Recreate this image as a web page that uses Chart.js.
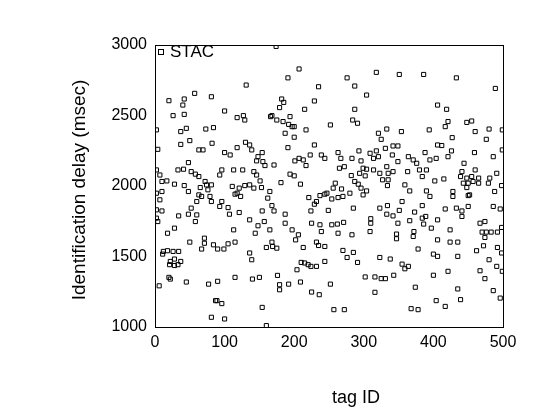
<!DOCTYPE html>
<html>
<head>
<meta charset="utf-8">
<script src="https://cdn.jsdelivr.net/npm/chart.js@4"></script>
<style>
  html, body { margin: 0; padding: 0; background: #fff; }
  #wrap { width: 560px; height: 420px; }
</style>
</head>
<body>
<div id="wrap"><canvas id="delayChart" width="560" height="420"></canvas></div>
<script>
// [tag ID, identification delay in msec]
const tags0to90 = [
  [20,2605],[42,2617],[57,2657],[81,2633],[40,2574],[26,2499],[42,2508],[2,2398],[37,2386],[45,2409],
  [73,2404],[84,2414],[4,2260],[37,2295],[50,2322],[63,2256],[69,2256],[82,2303],[48,2166],[33,2114],
  [41,2119],[52,2102],[58,2084],[63,2067],[2,2114],[7,2078],[10,2032],[17,2036],[28,2013],[42,2003],
  [72,2032],[74,2008],
  [48,1961],[65,1989],[76,1973],[2,1949],[10,1961],[7,1902],[63,1937],[67,1926],[79,1926],[60,1890],
  [81,1890],[52,1843],[2,1831],[10,1823],[48,1800],[34,1788],[60,1795],[2,1772],[58,1748],[4,1748],
  [28,1701],[18,1665],[50,1602],[71,1630],[71,1594],[67,1553],[84,1583],[12,1536],[18,1541],[26,1536],
  [34,1536],[11,1517],[28,1482],[22,1465],[37,1465],[21,1442],[28,1436],[33,1442],[20,1352],[22,1340],
  [45,1319],[6,1292],[77,1304],[87,1187],[81,1069],
];
const tags80to170 = [
  [131,2716],[100,2532],[118,2485],[127,2499],[129,2468],[166,2492],[100,2237],[108,2220],[118,2272],[130,2310],
  [136,2291],[139,2256],[154,2237],[148,2208],[155,2173],[146,2178],[158,2145],[96,2114],[93,2078],[113,2114],
  [126,2114],[142,2102],[146,2078],[151,2036],[111,1997],[129,2003],[136,2008],[81,2008],
  [121,1985],[142,1985],[153,1989],[118,1949],[123,1926],[115,1942],[165,1961],[96,1890],[105,1847],[93,1855],
  [107,1800],[121,1812],[154,1823],[136,1760],[157,1748],[148,1718],[144,1665],[165,1689],[113,1689],[115,1602],
  [105,1590],[99,1553],[90,1553],[136,1525],[160,1564],[139,1477],[90,1324],[115,1352],[140,1340],[150,1352],
  [89,1187],[96,1166],[154,1139],[100,1057],[160,1010],
];
const tags160to245 = [
  [174,2990],[207,2830],[191,2767],[235,2704],[182,2617],[185,2593],[179,2556],[229,2603],[215,2544],[168,2499],
  [175,2468],[194,2492],[184,2457],[192,2437],[200,2421],[197,2421],[217,2398],[187,2374],[200,2346],[229,2291],
  [191,2272],[239,2220],[171,2149],[201,2178],[207,2196],[213,2185],[223,2220],[217,2145],[244,2196],[194,2084],
  [200,2072],[181,2024],[209,2013],
  [162,1914],[168,1861],[171,1823],[221,1918],[229,1871],[232,1890],[237,1932],[224,1823],[244,1942],[187,1800],
  [187,1736],[197,1689],[206,1654],[202,1618],[213,1564],[225,1736],[237,1725],[239,1677],[232,1602],[235,1578],
  [244,1571],[168,1602],[169,1571],[175,1559],[210,1458],[215,1454],[220,1442],[224,1430],[232,1430],[204,1406],
  [244,1465],[176,1366],[179,1300],[179,1264],[192,1304],[209,1319],[225,1248],[236,1229],
];
const tags245to325 = [
  [276,2767],[318,2806],[287,2709],[304,2645],[287,2544],[284,2468],[291,2445],[252,2433],[321,2374],[263,2237],
  [267,2196],[283,2196],[293,2249],[309,2232],[314,2196],[318,2249],[296,2178],[265,2126],[272,2137],[299,2126],
  [304,2119],[314,2114],[282,2074],[294,2090],[302,2072],[323,2090],[259,2020],[287,2032],[292,2013],
  [256,1985],[268,1979],[247,1949],[254,1908],[263,1918],[270,1926],[280,1949],[296,1985],[304,1965],[299,1937],
  [249,1827],[285,1843],[323,1843],[310,1768],[310,1736],[254,1725],[262,1730],[271,1742],[263,1665],[283,1654],
  [309,1677],[270,1543],[285,1529],[276,1493],[291,1458],[323,1493],[252,1304],[302,1355],[316,1355],[316,1246],
  [257,1123],[272,1123],
];
const tags325to410 = [
  [351,2791],[386,2791],[406,2574],[333,2404],[354,2386],[394,2398],[325,2331],[342,2284],[349,2284],[331,2267],
  [321,2208],[341,2220],[388,2237],[406,2291],[349,2173],[364,2208],[371,2185],[376,2161],[395,2185],[404,2196],
  [333,2137],[335,2090],[342,2102],[363,2102],[380,2114],[390,2114],[327,2044],[335,2044],[384,2067],[402,2036],
  [359,2008],[334,2003],
  [366,1965],[390,1965],[395,1926],[334,1861],[355,1890],[333,1800],[342,1788],[349,1736],[351,1827],[384,1861],
  [373,1815],[384,1772],[389,1784],[386,1730],[397,1701],[406,1760],[366,1754],[372,1677],[371,1642],[347,1659],
  [347,1626],[378,1553],[406,1618],[400,1517],[406,1501],[338,1482],[355,1446],[359,1413],[364,1430],[325,1343],
  [331,1343],[343,1367],[400,1367],[374,1282],[404,1187],[368,1130],[378,1123],
];
const tags410to500 = [
  [433,2767],[489,2692],[419,2544],[421,2457],[417,2421],[448,2451],[455,2461],[460,2386],[480,2404],[499,2398],
  [427,2343],[476,2331],[412,2287],[426,2249],[421,2208],[459,2237],[486,2208],[499,2256],[444,2161],[441,2102],
  [460,2114],[491,2090],[439,2067],[448,2056],[455,2067],[465,2056],[481,2056],[415,2050],[443,2020],[450,2020],
  [457,2032],[465,2020],[479,2020],
  [428,1961],[428,1926],[448,1989],[450,1932],[452,1937],[488,1961],[498,2003],[417,1837],[433,1843],[441,1823],
  [441,1784],[450,1855],[486,1855],[496,1837],[467,1736],[474,1748],[424,1689],[470,1673],[476,1673],[483,1673],
  [492,1673],[498,1706],[474,1635],[472,1576],[462,1541],[424,1602],[435,1602],[492,1564],[498,1525],[435,1501],
  [480,1477],[491,1430],[467,1399],[474,1343],[421,1395],[499,1395],[435,1270],[486,1258],[496,1205],[439,1194],
  [417,1146],
];

const X_MIN = 0, X_MAX = 500, X_STEP = 100;
const Y_MIN = 1000, Y_MAX = 3000, Y_STEP = 500;
const SERIES_NAME = 'STAC';
const X_TITLE = 'tag ID';
const Y_TITLE = 'Identification delay (msec)';

const FONT = '"Liberation Sans", Arial, sans-serif';

const stacPoints = [tags0to90, tags80to170, tags160to245, tags245to325, tags325to410, tags410to500]
  .flat()
  .map(([x, y]) => ({ x, y }));

// box round the plot, axis titles and the little legend
const frameAndLegend = {
  id: 'frameAndLegend',
  afterDraw(chart) {
    const { ctx, chartArea: a } = chart;
    ctx.save();
    ctx.strokeStyle = '#000';
    ctx.lineWidth = 1;
    ctx.strokeRect(Math.round(a.left) + 0.5, Math.round(a.top) + 0.5,
                   Math.round(a.right - a.left), Math.round(a.bottom - a.top));

    ctx.fillStyle = '#000';
    ctx.textAlign = 'center';
    ctx.textBaseline = 'middle';
    ctx.font = '18px ' + FONT;
    ctx.fillText(X_TITLE, a.left + 201, 398);

    ctx.font = '19px ' + FONT;
    ctx.translate(80, (a.top + a.bottom) / 2 + 4);
    ctx.rotate(-Math.PI / 2);
    ctx.fillText(Y_TITLE, 0, 0);
    ctx.setTransform(1, 0, 0, 1, 0, 0);

    // legend
    const mx = a.left + 3, my = a.top + 4;
    ctx.strokeRect(mx + 0.5, my + 0.5, 5, 5);
    ctx.textAlign = 'left';
    ctx.font = '17px ' + FONT;
    ctx.fillText(SERIES_NAME, mx + 12, my + 3);
    ctx.restore();
  },
};

new Chart(document.getElementById('delayChart'), {
  type: 'scatter',
  data: {
    datasets: [{
      label: SERIES_NAME,
      data: stacPoints,
      pointStyle: 'rect',
      pointRadius: 2.9,
      pointHoverRadius: 2.9,
      pointBackgroundColor: 'rgba(255,255,255,0)',
      pointBorderColor: '#000',
      pointBorderWidth: 1,
    }],
  },
  options: {
    responsive: false,
    animation: false,
    devicePixelRatio: 1,
    layout: { padding: { left: 0, right: 57, top: 45, bottom: 0 } },
    plugins: { legend: { display: false }, tooltip: { enabled: false } },
    scales: {
      x: {
        type: 'linear', min: X_MIN, max: X_MAX,
        ticks: { stepSize: X_STEP, color: '#000', font: { family: FONT, size: 16 }, padding: 6,
                 callback: v => String(v) },
        grid: { display: false, drawTicks: false },
        border: { display: false },
        afterFit: s => { s.height = 93; },
      },
      y: {
        type: 'linear', min: Y_MIN, max: Y_MAX,
        ticks: { stepSize: Y_STEP, color: '#000', font: { family: FONT, size: 16 }, padding: 8,
                 callback: v => String(v) },
        grid: { display: false, drawTicks: false },
        border: { display: false },
        afterFit: s => { s.width = 155; },
      },
    },
  },
  plugins: [frameAndLegend],
});
</script>
</body>
</html>
